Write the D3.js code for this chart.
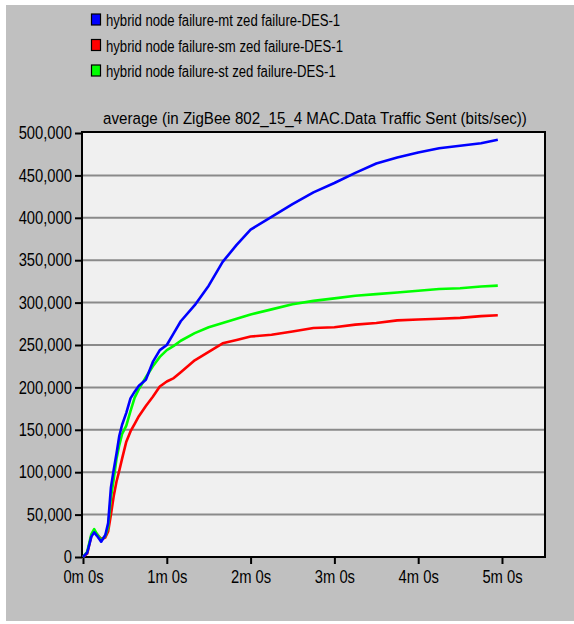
<!DOCTYPE html>
<html>
<head>
<meta charset="utf-8">
<script src="https://cdn.jsdelivr.net/npm/d3@7"></script>
<style>
  body { margin: 0; background: #fff; }
  text { font-family: "Liberation Sans", Arial, sans-serif; fill: #000; }
</style>
</head>
<body>
<div id="container"></div>
<script>
/* CONSTANTS AND GLOBALS */
const width = 574,
    height = 624,
    margin = { top: 133, bottom: 67, left: 83, right: 29 };

// time in seconds
const times = [0, 3, 6, 8, 10, 13, 16, 18, 20, 22, 24, 26, 28, 31, 34, 37, 40, 45, 50, 55, 60, 65, 70,
    80, 90, 100, 110, 120, 135, 150, 165, 180, 195, 210, 225, 240, 255, 270, 285, 297];

const mtValues = [0, 5000, 24000, 29000, 25000, 18000, 26000, 40000, 82000, 103000, 122000, 143000, 156000,
    170000, 187000, 195000, 202000, 209000, 230000, 244000, 250000, 264000, 278000,
    297000, 320000, 348000, 368000, 386000, 401000, 416000, 430000, 441000, 453000, 464000, 471000,
    477000, 482000, 485000, 488000, 492000];

const smValues = [0, 4000, 25000, 31000, 27000, 21000, 23000, 30000, 50000, 72000, 89000, 102000, 116000,
    136000, 148000, 157000, 166000, 178000, 189000, 201000, 207000, 211000, 218000,
    232000, 242000, 252000, 256000, 260000, 262000, 266000, 270000, 271000, 274000, 276000, 279000,
    280000, 281000, 282000, 284000, 285000];

const stValues = [0, 6000, 27000, 33000, 27000, 20000, 25000, 35000, 70000, 92000, 116000, 132000, 145000,
    155000, 172000, 188000, 198000, 212000, 225000, 236000, 244000, 249000, 255000,
    264000, 271000, 276000, 281000, 286000, 292000, 298000, 302000, 305000, 308000, 310000, 312000,
    314000, 316000, 317000, 319000, 320000];

const seriesNames = ["hybrid node failure-mt zed failure-DES-1",
    "hybrid node failure-sm zed failure-DES-1",
    "hybrid node failure-st zed failure-DES-1"];
const seriesColors = ["#0000ff", "#ff0000", "#00ff00"];

const yTicks = [0, 50000, 100000, 150000, 200000, 250000, 300000, 350000, 400000, 450000, 500000];
const xTicks = [0, 60, 120, 180, 240, 300];
const xTickLabels = ["0m 0s", "1m 0s", "2m 0s", "3m 0s", "4m 0s", "5m 0s"];

const series = [mtValues, smValues, stValues].map((vals, i) => ({
    name: seriesNames[i],
    color: seriesColors[i],
    values: vals.map((v, j) => ({ t: times[j], v: v }))
}));

// no narrow font installed -> squeeze text horizontally
function narrow(sel, k = 0.82) {
    sel.each(function () {
        const w = this.getComputedTextLength();
        d3.select(this)
            .attr("textLength", w * k)
            .attr("lengthAdjust", "spacingAndGlyphs")
    })
}

//SCALES
const xScale = d3.scaleLinear()
    .domain([0, 330.8])
    .range([margin.left, width - margin.right])

const yScale = d3.scaleLinear()
    .domain([0, 500000])
    .range([height - margin.bottom, margin.top])

//CREATE SVG
const svg = d3.select("#container")
    .append("svg")
    .attr("width", width)
    .attr("height", height)

// gray panel
svg.append("rect")
    .attr("x", 6).attr("y", 5)
    .attr("width", width - 6).attr("height", 616)
    .attr("fill", "#c0c0c0")

// plot background
svg.append("rect")
    .attr("x", margin.left - 1).attr("y", margin.top - 1)
    .attr("width", width - margin.right - margin.left + 1)
    .attr("height", height - margin.bottom - margin.top + 1)
    .attr("fill", "#f0f0f0")

// grid
svg.append("g")
    .selectAll("line")
    .data(yTicks.slice(1, -1))
    .join("line")
    .attr("x1", margin.left).attr("x2", width - margin.right)
    .attr("y1", d => yScale(d)).attr("y2", d => yScale(d))
    .attr("stroke", "#8a8a8a")
    .attr("stroke-width", 2)

// border
svg.append("rect")
    .attr("x", margin.left - 1).attr("y", margin.top - 1)
    .attr("width", width - margin.right - margin.left + 1)
    .attr("height", height - margin.bottom - margin.top + 1)
    .attr("fill", "none")
    .attr("stroke", "#000")
    .attr("stroke-width", 2)

//X AXIS
const xAxis = d3.axisBottom(xScale)
    .tickValues(xTicks)
    .tickSize(7)
    .tickPadding(6)
    .tickFormat((d, i) => xTickLabels[i])
const gx = svg.append("g")
    .attr("transform", `translate(0,${height - margin.bottom})`)
    .call(xAxis)
gx.select(".domain").remove()
gx.selectAll(".tick line").attr("stroke", "#000").attr("stroke-width", 2)
gx.selectAll(".tick text").style("font-size", "18px").attr("fill", "#000").call(narrow)

//Y AXIS
const yAxis = d3.axisLeft(yScale)
    .tickValues(yTicks)
    .tickSize(7)
    .tickPadding(3)
    .tickFormat(d3.format(","))
const gy = svg.append("g")
    .attr("transform", `translate(${margin.left - 1},0)`)
    .call(yAxis)
gy.select(".domain").remove()
gy.selectAll(".tick line").attr("stroke", "#000").attr("stroke-width", 2)
gy.selectAll(".tick text").style("font-size", "18px").attr("fill", "#000").call(narrow)

//LINES
const line = d3.line()
    .x(d => xScale(d.t))
    .y(d => yScale(d.v))

svg.append("g")
    .selectAll("path")
    .data([series[1], series[2], series[0]])
    .join("path")
    .attr("d", d => line(d.values))
    .attr("fill", "none")
    .attr("stroke", d => d.color)
    .attr("stroke-width", 2.6)
    .attr("stroke-linejoin", "round")

//TITLE (squeezed with a transform to the reference width)
const title = svg.append("text")
    .attr("text-anchor", "middle")
    .style("font-size", "17px")
    .text("average (in ZigBee 802_15_4 MAC.Data Traffic Sent (bits/sec))")
const titleScale = 424 / title.node().getComputedTextLength()
title.attr("transform", `translate(${(margin.left + width - margin.right) / 2 + 1},124) scale(${titleScale},1)`)

//LEGEND
const legend = svg.append("g")
    .selectAll("g")
    .data(series)
    .join("g")
    .attr("transform", (d, i) => `translate(91,${20 + i * 25.5})`)

legend.append("rect")
    .attr("x", 0.5).attr("y", -6)
    .attr("width", 9).attr("height", 11)
    .attr("fill", d => d.color)
    .attr("stroke", "#000")
    .attr("stroke-width", 1.2)

legend.append("text")
    .attr("x", 15)
    .attr("y", 6)
    .style("font-size", "16px")
    .text(d => d.name)
    .call(narrow)
</script>
</body>
</html>
